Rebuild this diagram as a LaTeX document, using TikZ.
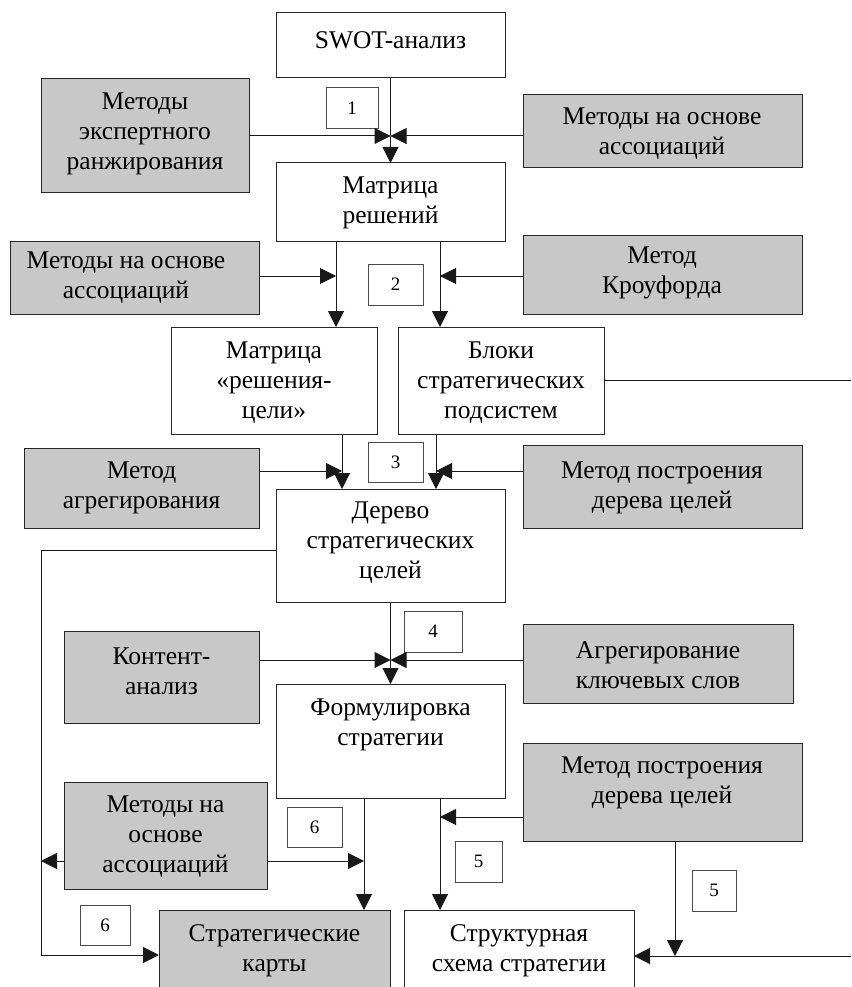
\documentclass[tikz,border=0pt]{standalone}
\usepackage{fontspec}
\setmainfont{Liberation Serif}
\usetikzlibrary{arrows.meta}
\definecolor{boxgray}{RGB}{200,200,200}
\tikzset{
 base/.style={draw=black!85, line width=1pt, inner sep=0pt, outer sep=0pt},
 wbox/.style={base, fill=white},
 gbox/.style={base, fill=boxgray},
 nbox/.style={base, draw=black!70, fill=white, font=\fontsize{19}{22}\selectfont},
 txt/.style={font=\fontsize{25.5}{30}\selectfont, align=center, inner sep=0pt},
 ar/.style={line width=1pt, draw=black!90, -{Triangle[length=16pt,width=16pt]}},
 ln/.style={line width=1pt, draw=black!90},
}
\newcommand\mybox[7]{\node[#1, anchor=north west, minimum width={#5-#3}, minimum height={#6-#4}] (#2) at (#3,#4) {#7};}
\begin{document}
\begin{tikzpicture}[x=1pt,y=-1pt]
\useasboundingbox (0,0) rectangle (851,987);
\clip (0,0) rectangle (851,987);
% main boxes
\mybox{wbox}{swot}{276}{13}{505}{78}{}
\node[txt] (swotT) at (390.5,40) {SWOT-анализ};
\mybox{gbox}{gL1}{41}{79}{249}{193}{}
\node[txt] (gL1T) at (145,134) {Методы\\экспертного\\ранжирования};
\mybox{gbox}{gR1}{523}{95}{802}{168}{}
\node[txt] (gR1T) at (662,134) {Методы на основе\\ассоциаций};
\mybox{nbox}{n1}{326}{88}{378}{129}{1}
\mybox{wbox}{mr}{276}{163}{505}{241}{}
\node[txt] (mrT) at (390.5,203) {Матрица\\решений};
\mybox{gbox}{gL2}{10}{241}{259}{314}{}
\node[txt] (gL2T) at (126,278) {Методы на основе\\ассоциаций};
\mybox{gbox}{gR2}{523}{235}{802}{314}{}
\node[txt] (gR2T) at (662,273) {Метод\\Кроуфорда};
\mybox{nbox}{n2}{368}{264}{423}{305}{2}
\mybox{wbox}{mrc}{171}{327}{377}{434}{}
\node[txt] (mrcT) at (274,383) {Матрица\\«решения-\\цели»};
\mybox{wbox}{blk}{398}{327}{604}{434}{}
\node[txt] (blkT) at (501,383) {Блоки\\стратегических\\подсистем};
\mybox{nbox}{n3}{368}{442}{423}{482}{3}
\mybox{gbox}{gL3}{24}{448}{259}{528}{}
\node[txt] (gL3T) at (141.5,488) {Метод\\агрегирования};
\mybox{gbox}{gR3}{523}{445}{802}{528}{}
\node[txt] (gR3T) at (662,488) {Метод построения\\дерева целей};
\mybox{wbox}{der}{276}{489}{505}{602}{}
\node[txt] (derT) at (390.5,543) {Дерево\\стратегических\\целей};
\mybox{nbox}{n4}{404}{611}{462}{652}{4}
\mybox{gbox}{gL4}{64}{631}{259}{723}{}
\node[txt] (gL4T) at (161.5,671) {Контент-\\анализ};
\mybox{gbox}{gR4}{523}{624}{793}{703}{}
\node[txt] (gR4T) at (658,665) {Агрегирование\\ключевых слов};
\mybox{wbox}{form}{276}{684}{505}{798}{}
\node[txt] (formT) at (390.5,724.5) {Формулировка\\стратегии};
\mybox{gbox}{gR5}{523}{743}{802}{841}{}
\node[txt] (gR5T) at (662,783) {Метод построения\\дерева целей};
\mybox{gbox}{gL5}{64}{782}{267}{889}{}
\node[txt] (gL5T) at (165.5,837) {Методы на\\основе\\ассоциаций};
\mybox{nbox}{n6a}{287}{807}{342}{847}{6}
\mybox{nbox}{n5a}{455}{841}{502}{882}{5}
\mybox{nbox}{n5b}{692}{870}{736}{911}{5}
\mybox{nbox}{n6b}{80}{905}{130}{945}{6}
\mybox{gbox}{kart}{159}{910}{390}{1010}{}
\node[txt] (kartT) at (274.5,951) {Стратегические\\карты};
\mybox{wbox}{ss}{404}{910}{634}{1010}{}
\node[txt] (ssT) at (519,951) {Структурная\\схема стратегии};
% helper coordinates
\coordinate (j1) at (390.5,136);
\coordinate (xa) at (336,0);
\coordinate (xb) at (440,0);
\coordinate (y2) at (0,276);
\coordinate (xc) at (342,0);
\coordinate (xd) at (436,0);
\coordinate (y3) at (0,471);
\coordinate (j4) at (390.5,660);
\coordinate (xe) at (364,0);
\coordinate (xf) at (440,0);
\coordinate (xl) at (41,0);
\coordinate (xr) at (675,0);
\coordinate (eR1) at (851,380);
\coordinate (eR2) at (851,956);
\coordinate (lc1) at (41,550);
\coordinate (lc2) at (41,955);
\coordinate (jb) at (675,956);
% connectors
\draw[ar] (swot.south) -- (mr.north);
\draw[ar] (gL1.east |- j1) -- (j1);
\draw[ar] (gR1.west |- j1) -- (j1);
\draw[ar] (mr.south -| xa) -- (mrc.north -| xa);
\draw[ar] (mr.south -| xb) -- (blk.north -| xb);
\draw[ar] (gL2.east |- y2) -- (xa |- y2);
\draw[ar] (gR2.west |- y2) -- (xb |- y2);
\draw[ar] (mrc.south -| xc) -- (der.north -| xc);
\draw[ar] (blk.south -| xd) -- (der.north -| xd);
\draw[ar] (gL3.east |- y3) -- (xc |- y3);
\draw[ar] (gR3.west |- y3) -- (xd |- y3);
\draw[ln] (blk.east |- eR1) -- (eR1);
\draw[ar] (der.west |- lc1) -- (lc1) -- (lc2) -- (kart.west |- lc2);
\draw[ar] (der.south) -- (form.north);
\draw[ar] (gL4.east |- j4) -- (j4);
\draw[ar] (gR4.west |- j4) -- (j4);
\draw[ar] (form.south -| xe) -- (kart.north -| xe);
\draw[ar] (form.south -| xf) -- (ss.north -| xf);
\draw[ar] (gR5.west |- 0,817) -- (xf |- 0,817);
\draw[ar] (gL5.east |- 0,861) -- (xe |- 0,861);
\draw[ar] (gL5.west |- 0,861) -- (xl |- 0,861);
\draw[ar] (gR5.south -| xr) -- (jb);
\draw[ar] (eR2) -- (ss.east |- eR2);
\end{tikzpicture}
\end{document}
